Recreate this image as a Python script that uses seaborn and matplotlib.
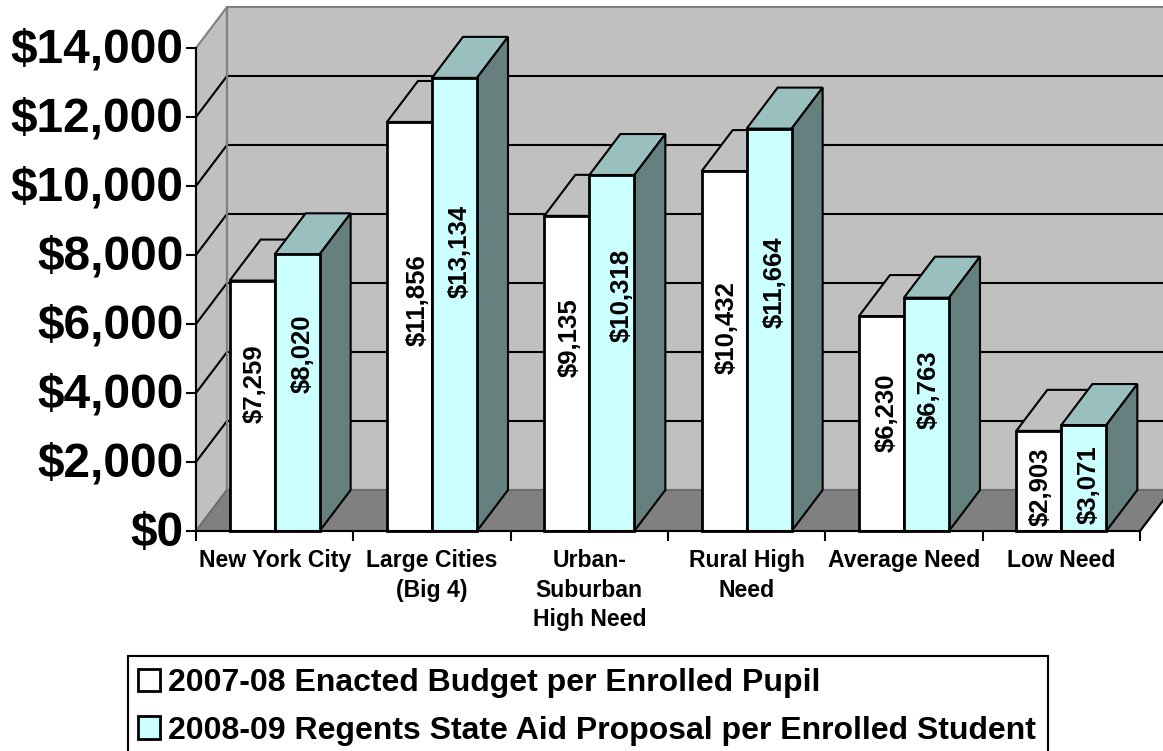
import matplotlib
matplotlib.use('Agg')
import matplotlib.pyplot as plt
from matplotlib.patches import Polygon, Rectangle
from matplotlib.transforms import ScaledTranslation
import pandas as pd
import seaborn as sns

categories = ['New York City', 'Large Cities\n(Big 4)', 'Urban-\nSuburban\nHigh Need',
              'Rural High\nNeed', 'Average Need', 'Low Need']
enacted = [7259, 11856, 9135, 10432, 6230, 2903]
regents = [8020, 13134, 10318, 11664, 6763, 3071]
series_names = ['2007-08 Enacted Budget per Enrolled Pupil',
                '2008-09 Regents State Aid Proposal per Enrolled Student']
yticks = [0, 2000, 4000, 6000, 8000, 10000, 12000, 14000]

df = pd.DataFrame({
    'group': categories * 2,
    'value': enacted + regents,
    'series': [series_names[0]] * 6 + [series_names[1]] * 6,
})

sns.set_style('white')
plt.rcParams['font.family'] = ['Liberation Sans', 'DejaVu Sans']
plt.rcParams['font.weight'] = 'bold'
plt.rcParams['text.color'] = 'black'
plt.rcParams['xtick.labelcolor'] = 'black'
plt.rcParams['ytick.labelcolor'] = 'black'

W, H = 1163, 751
fig = plt.figure(figsize=(W / 100, H / 100), dpi=100)
ax = fig.add_axes([196 / W, (H - 531) / H, 944 / W, 483 / H])
ax.patch.set_visible(False)

sns.barplot(data=df, x='group', y='value', hue='series', palette=['#FFFFFF', '#CCFFFF'],
            width=0.572, gap=0, saturation=1, edgecolor='black', linewidth=2, ax=ax, zorder=5)
ax.set_xlim(-0.5, 5.5)
ax.set_ylim(0, 14000)
ax.set_xlabel('')
ax.set_ylabel('')

# depth of the fake 3d box, in data units
dx = 31 / 944 * 6
dy = 41 / 483 * 14000

# walls and floor
x0, x1 = -0.5, 5.5
ax.add_patch(Polygon([(x0, 0), (x0 + dx, dy), (x0 + dx, 14000 + dy), (x0, 14000)], fc='#C0C0C0',
                     ec='#808080', lw=1.5, clip_on=False, zorder=0.5))
ax.add_patch(Polygon([(x0 + dx, dy), (x1 + dx, dy), (x1 + dx, 14000 + dy), (x0 + dx, 14000 + dy)], fc='#C0C0C0',
                     ec='#808080', lw=1.5, clip_on=False, zorder=0.6))
ax.add_patch(Polygon([(x0, 0), (x1, 0), (x1 + dx, dy), (x0 + dx, dy)], fc='#808080',
                     ec='#6E6E6E', lw=1.5, clip_on=False, zorder=0.7))
ax.plot([x1, x1 + dx], [0, dy], color='black', lw=1.5, clip_on=False, zorder=0.8)
for t in yticks[1:-1]:
    ax.plot([x0, x0 + dx, x1 + dx], [t, t + dy, t + dy], color='black', lw=1.5,
            clip_on=False, zorder=0.9, solid_joinstyle='miter')
ax.plot([x0 + dx, x0 + dx], [0 + dy, 14000 + dy], color='#808080', lw=1.5, clip_on=False, zorder=1)

# tops and sides of the bars, painted one series over the other
top_colors = ['#C0C0C0', '#99BFBF']
side_colors = ['#808080', '#668080']
# where the labels sit: share of the bar height, and pixels right of the bar centre
label_frac = [[.588, .565, .614, .564, .551, .44], [.639, .617, .662, .619, .605, .434]]
label_shift = [[3, 8, 3, 3, 5, 2], [6, 5, 10, 6, 2, 5]]
for s, cont in enumerate(ax.containers):
    for i, bar in enumerate(cont):
        a = bar.get_x()
        b = a + bar.get_width()
        h = bar.get_height()
        ax.add_patch(Polygon([(a, h), (b, h), (b + dx, h + dy), (a + dx, h + dy)], fc=top_colors[s],
                             ec='black', lw=1.5, clip_on=False, zorder=2 + 2 * s, joinstyle='miter'))
        ax.add_patch(Polygon([(b, 0), (b + dx, dy), (b + dx, h + dy), (b, h)], fc=side_colors[s],
                             ec='black', lw=1.5, clip_on=False, zorder=2 + 2 * s, joinstyle='miter'))
        bar.set_zorder(3 + 2 * s)
        bar.set_clip_on(False)
        ax.text((a + b) / 2 + label_shift[s][i] / 944 * 6, label_frac[s][i] * h, f'${h:,.0f}', rotation=90,
                ha='center', va='center', fontsize=18.5, fontweight='bold', zorder=9)

sns.despine(ax=ax)
ax.spines['left'].set(linewidth=1.5, color='black', zorder=10)
ax.spines['bottom'].set(linewidth=1.5, color='black', zorder=10)

ax.set_yticks(yticks, [f'${t:,}' for t in yticks])
ax.tick_params(axis='y', labelsize=34.5, length=7, width=1.5, pad=2, left=True, color='black')
up = ScaledTranslation(0, 3 / 100, fig.dpi_scale_trans)
for lab in ax.get_yticklabels():
    lab.set_transform(lab.get_transform() + up)
ax.set_xticks([i - 0.5 for i in range(7)], [''] * 7)
ax.set_xticks(range(6), categories, minor=True)
ax.tick_params(axis='x', which='major', length=7, width=1.5, bottom=True, color='black')
ax.tick_params(axis='x', which='minor', length=0, labelsize=16.6, pad=13)
for lab in ax.get_xticklabels(minor=True):
    lab.set_linespacing(1.37)
    lab.set_fontweight('bold')

# legend box runs off the bottom of the picture
fig.add_artist(Rectangle((128 / W, -20 / H), 920 / W, (H - 656 + 20) / H, transform=fig.transFigure,
                         fill=False, ec='black', lw=1.5))
handles, labels = ax.get_legend_handles_labels()
leg = ax.legend(handles, labels, loc='upper left', bbox_to_anchor=(138 / W, (H - 668.5) / H),
                bbox_transform=fig.transFigure, borderaxespad=0, fontsize=23, frameon=False,
                handlelength=0.69, handleheight=0.69, handletextpad=0.25, labelspacing=0.54, borderpad=0)
leg.set_zorder(20)
for t in leg.get_texts():
    t.set_fontweight('bold')

fig.savefig('out.png', dpi=100)
